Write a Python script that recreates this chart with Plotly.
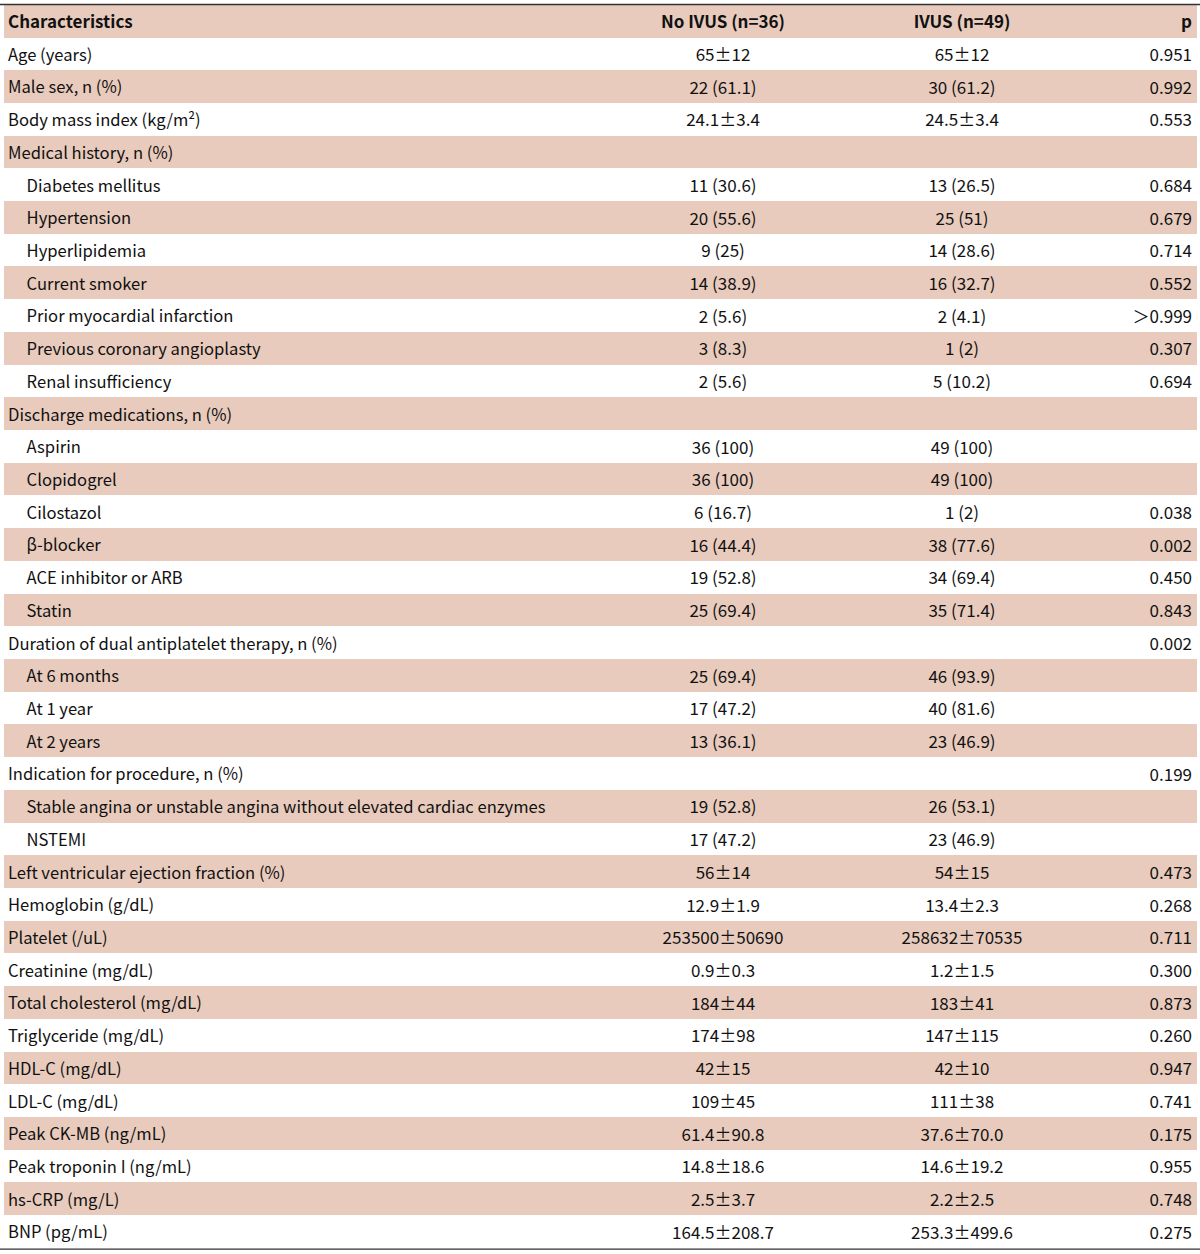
import plotly.graph_objects as go

header = ["Characteristics", "No IVUS (n=36)", "IVUS (n=49)", "p"]

characteristics = [
    "Age (years)", "Male sex, n (%)", "Body mass index (kg/m²)",
    "Medical history, n (%)", "Diabetes mellitus", "Hypertension", "Hyperlipidemia",
    "Current smoker", "Prior myocardial infarction", "Previous coronary angioplasty",
    "Renal insufficiency", "Discharge medications, n (%)", "Aspirin", "Clopidogrel",
    "Cilostazol", "β-blocker", "ACE inhibitor or ARB", "Statin",
    "Duration of dual antiplatelet therapy, n (%)", "At 6 months", "At 1 year", "At 2 years",
    "Indication for procedure, n (%)",
    "Stable angina or unstable angina without elevated cardiac enzymes", "NSTEMI",
    "Left ventricular ejection fraction (%)", "Hemoglobin (g/dL)", "Platelet (/uL)",
    "Creatinine (mg/dL)", "Total cholesterol (mg/dL)", "Triglyceride (mg/dL)",
    "HDL-C (mg/dL)", "LDL-C (mg/dL)", "Peak CK-MB (ng/mL)", "Peak troponin I (ng/mL)",
    "hs-CRP (mg/L)", "BNP (pg/mL)",
]
indented = [
    False, False, False,
    False, True, True, True, True, True, True, True,
    False, True, True, True, True, True, True,
    False, True, True, True,
    False, True, True,
    False, False, False, False, False, False, False, False, False, False, False, False,
]
no_ivus = [
    "65±12", "22 (61.1)", "24.1±3.4", "", "11 (30.6)", "20 (55.6)", "9 (25)", "14 (38.9)",
    "2 (5.6)", "3 (8.3)", "2 (5.6)", "", "36 (100)", "36 (100)", "6 (16.7)", "16 (44.4)",
    "19 (52.8)", "25 (69.4)", "", "25 (69.4)", "17 (47.2)", "13 (36.1)", "", "19 (52.8)",
    "17 (47.2)", "56±14", "12.9±1.9", "253500±50690", "0.9±0.3", "184±44", "174±98",
    "42±15", "109±45", "61.4±90.8", "14.8±18.6", "2.5±3.7", "164.5±208.7",
]
ivus = [
    "65±12", "30 (61.2)", "24.5±3.4", "", "13 (26.5)", "25 (51)", "14 (28.6)", "16 (32.7)",
    "2 (4.1)", "1 (2)", "5 (10.2)", "", "49 (100)", "49 (100)", "1 (2)", "38 (77.6)",
    "34 (69.4)", "35 (71.4)", "", "46 (93.9)", "40 (81.6)", "23 (46.9)", "", "26 (53.1)",
    "23 (46.9)", "54±15", "13.4±2.3", "258632±70535", "1.2±1.5", "183±41", "147±115",
    "42±10", "111±38", "37.6±70.0", "14.6±19.2", "2.2±2.5", "253.3±499.6",
]
# fullwidth "＞" keeps the cell free of markup characters (which would enlarge the row)
p_values = [
    "0.951", "0.992", "0.553", "", "0.684", "0.679", "0.714", "0.552", "＞0.999", "0.307",
    "0.694", "", "", "", "0.038", "0.002", "0.450", "0.843", "0.002", "", "", "", "0.199",
    "", "", "0.473", "0.268", "0.711", "0.300", "0.873", "0.260", "0.947", "0.741",
    "0.175", "0.955", "0.748", "0.275",
]

SHADE = "#E8CBBC"
WHITE = "#FFFFFF"
CLEAR = "rgba(0,0,0,0)"
FONT = "Noto Sans CJK KR"
TXT = "#111111"

INDENT = "\u00a0" * 5
labels = [(INDENT + t) if ind else t for t, ind in zip(characteristics, indented)]
n = len(labels)
row_fill = [SHADE if i % 2 == 1 else WHITE for i in range(n)]

W, H = 1200, 1254
top_px, bot_px = 5.2, 1248.3          # shaded area of the table
n_rows = n + 1
row_h = (bot_px - top_px) / n_rows
text_dy = 2.4                          # push text down to centre it in the rows


def ydom(top, bottom):
    return [max(0.0, 1 - bottom / H), min(1.0, 1 - top / H)]


# background bands (row shading)
bands = go.Table(
    columnwidth=[1],
    header=dict(values=[""], fill_color=SHADE, line=dict(color=SHADE, width=1),
                height=row_h),
    cells=dict(values=[[""] * n], fill_color=[row_fill], line=dict(color=[row_fill], width=1),
               height=row_h),
    domain=dict(x=[4 / W, 1 - 4 / W], y=ydom(top_px, bot_px + 0.3)),
    hoverinfo="skip",
)

# text layer
text_table = go.Table(
    columnwidth=[600, 246, 232, 122],
    header=dict(
        values=header,
        align=["left", "center", "center", "right"],
        fill_color=CLEAR,
        line=dict(color=CLEAR, width=0),
        font=dict(family=FONT, size=17, color=TXT, weight="bold"),
        height=row_h,
    ),
    cells=dict(
        values=[labels, no_ivus, ivus, p_values],
        align=["left", "center", "center", "right"],
        fill_color=CLEAR,
        line=dict(color=CLEAR, width=0),
        font=dict(family=FONT, size=[16.6, 17, 17, 17], color=TXT),
        height=row_h,
    ),
    domain=dict(x=[0, 1], y=ydom(top_px + text_dy, H)),
)

fig = go.Figure([bands, text_table])

fig.update_layout(
    width=W, height=H,
    margin=dict(l=0, r=0, t=0, b=0, pad=0),
    paper_bgcolor="white",
    shapes=[
        dict(type="line", xref="paper", yref="paper", x0=0, x1=1,
             y0=1 - 4.5 / H, y1=1 - 4.5 / H, line=dict(color="#333333", width=1.4)),
        dict(type="line", xref="paper", yref="paper", x0=0, x1=1,
             y0=1 - 1249.1 / H, y1=1 - 1249.1 / H, line=dict(color="#333333", width=1.4)),
    ],
)

fig.write_html(
    "out.html",
    config={"displayModeBar": False},
    post_script="document.body.style.margin='0px';",
)
